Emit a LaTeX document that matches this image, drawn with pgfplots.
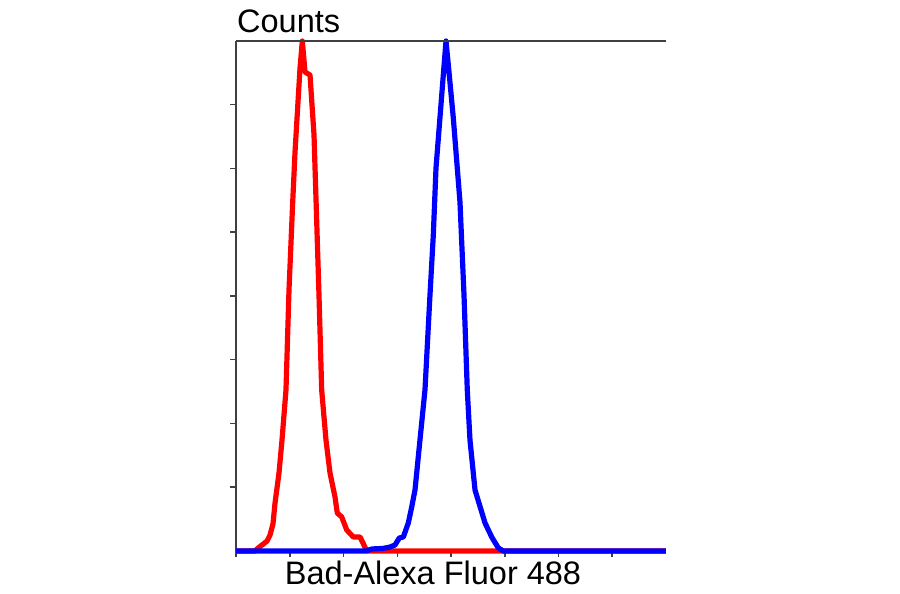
\documentclass[border=0pt]{standalone}
\usepackage{fontspec}
\setmainfont{Liberation Sans}
\usepackage{pgfplots}
\pgfplotsset{compat=1.18}
\definecolor{axgray}{RGB}{64,64,64}
\begin{document}
\begin{tikzpicture}[x=1pt,y=1pt]
\useasboundingbox (0,0) rectangle (900,594);
\begin{axis}[
  at={(236pt,43pt)}, anchor=south west,
  scale only axis,
  width=430pt, height=510pt,
  xmin=0, xmax=8,
  ymin=0, ymax=400,
  axis x line*=bottom,
  axis y line*=left,
  axis line style={-, draw=axgray, line width=1.5pt},
  xtick={0,1,...,7},
  ytick={50,100,...,350},
  xticklabels={}, yticklabels={},
  tick align=outside,
  major tick length=6pt,
  tick style={axgray, line width=1.5pt},
  clip=false,
]
% red: control
\addplot [red, line width=5.2pt, line join=round] coordinates {
  (0,0)(0.353,0)(0.391,1.6)(0.484,4.7)(0.577,7.8)(0.633,12.5)(0.688,21.2)
  (0.726,37.6)(0.800,61.2)(0.856,87.1)(0.930,126.3)(0.986,204.7)
  (1.055,273.7)(1.098,312.9)(1.191,378.8)(1.234,400)(1.284,375.7)
  (1.377,373.3)(1.451,326.7)(1.544,200.8)(1.594,126.3)(1.674,87.1)
  (1.749,61.2)(1.842,42.4)(1.884,29.8)(1.967,26.7)(2.060,16.5)
  (2.182,11.0)(2.307,11.0)(2.363,6.3)(2.432,0)(8,0)
};
% blue: Bad
\addplot [blue, line width=5.2pt, line join=round] coordinates {
  (0,0)(2.419,0)(2.530,1.6)(2.735,2.0)(2.865,3.1)(2.958,4.7)(3.038,10.2)
  (3.113,11.0)(3.206,22.0)(3.269,34.5)(3.330,47.8)(3.423,87.1)
  (3.516,126.3)(3.609,200.8)(3.671,247.8)(3.721,300.4)(3.857,373.3)
  (3.907,400)(3.968,373.3)(4.043,339.6)(4.167,273.7)(4.242,200.8)
  (4.303,126.3)(4.353,87.1)(4.447,47.8)(4.633,22.0)(4.757,11.0)
  (4.880,2.4)(4.973,0)(8,0)
};
\draw [axgray, line width=1.5pt] (rel axis cs:0,1) -- (rel axis cs:1,1);
\end{axis}
\node [anchor=base west, inner sep=0pt, font=\fontsize{32.5}{39}\selectfont] at (237,561) {Counts};
\node [anchor=base, inner sep=0pt, font=\fontsize{32.5}{39}\selectfont] at (433,9) {Bad-Alexa Fluor 488};
\end{tikzpicture}
\end{document}
